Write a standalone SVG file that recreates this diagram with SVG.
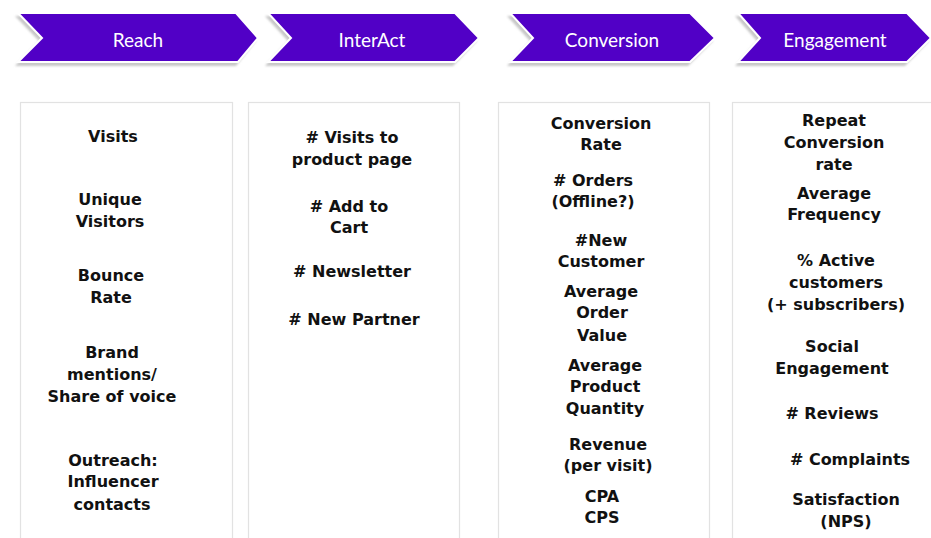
<svg xmlns="http://www.w3.org/2000/svg" width="931" height="538" viewBox="0 0 931 538">
<style>
.chev{fill:#5100c6;stroke:#ffffff;stroke-width:2;}
.shadow{fill:#c8c8c8;}
.ht{font-family:Lato,"Open Sans","Liberation Sans",sans-serif;font-size:19px;fill:#ffffff;text-anchor:middle;}
.box{fill:#ffffff;stroke:#e2e2e2;stroke-width:1.2;}
.t{font-family:"DejaVu Sans","Liberation Sans",sans-serif;font-weight:bold;font-size:16px;fill:#111111;text-anchor:middle;}
</style>
<defs>
<filter id="blur" x="-10%" y="-20%" width="120%" height="150%"><feGaussianBlur stdDeviation="1.2"/></filter>
</defs>
<rect width="931" height="538" fill="#ffffff"/>
<g id="stage-reach">
<polygon class="shadow" filter="url(#blur)" points="15,16 234,16 256,41 236,66 15,66 39,41"/>
<polygon class="chev" points="18,13 236,13 258,38 238,62 18,62 42,38"/>
<text class="ht" x="138" y="47">Reach</text>
</g>
<g id="stage-interact">
<polygon class="shadow" filter="url(#blur)" points="265,16 453,16 477,41 453,66 265,66 288,41"/>
<polygon class="chev" points="268,13 455,13 479,38 455,62 268,62 291,38"/>
<text class="ht" x="372" y="47">InterAct</text>
</g>
<g id="stage-conversion">
<polygon class="shadow" filter="url(#blur)" points="507,16 688,16 713,41 688,66 507,66 530,41"/>
<polygon class="chev" points="510,13 690,13 715,38 690,62 510,62 533,38"/>
<text class="ht" x="612" y="47">Conversion</text>
</g>
<g id="stage-engagement">
<polygon class="shadow" filter="url(#blur)" points="735,16 905,16 929,41 905,66 735,66 757,41"/>
<polygon class="chev" points="738,13 907,13 931,38 907,62 738,62 760,38"/>
<text class="ht" x="835" y="47">Engagement</text>
</g>
<g id="col-reach">
<rect class="box" x="20.5" y="102.5" width="212" height="450"/>
<text class="t" x="113" y="142">Visits</text>
<text class="t" x="110" y="205">Unique</text>
<text class="t" x="110" y="227">Visitors</text>
<text class="t" x="111" y="281">Bounce</text>
<text class="t" x="111" y="303">Rate</text>
<text class="t" x="112" y="358">Brand</text>
<text class="t" x="112" y="380">mentions/</text>
<text class="t" x="112" y="402">Share of voice</text>
<text class="t" x="113" y="466">Outreach:</text>
<text class="t" x="113" y="487">Influencer</text>
<text class="t" x="112" y="510">contacts</text>
</g>
<g id="col-interact">
<rect class="box" x="248.5" y="102.5" width="211" height="450"/>
<text class="t" x="352" y="143"># Visits to</text>
<text class="t" x="352" y="165">product page</text>
<text class="t" x="349" y="212"># Add to</text>
<text class="t" x="349" y="233">Cart</text>
<text class="t" x="352" y="277"># Newsletter</text>
<text class="t" x="354" y="325"># New Partner</text>
</g>
<g id="col-conversion">
<rect class="box" x="498.5" y="102.5" width="211" height="450"/>
<text class="t" x="601" y="129">Conversion</text>
<text class="t" x="601" y="150">Rate</text>
<text class="t" x="593" y="186"># Orders</text>
<text class="t" x="593" y="207">(Offline?)</text>
<text class="t" x="601" y="246">#New</text>
<text class="t" x="601" y="267">Customer</text>
<text class="t" x="601" y="297">Average</text>
<text class="t" x="602" y="318">Order</text>
<text class="t" x="602" y="341">Value</text>
<text class="t" x="605" y="371">Average</text>
<text class="t" x="605" y="392">Product</text>
<text class="t" x="605" y="414">Quantity</text>
<text class="t" x="608" y="450">Revenue</text>
<text class="t" x="608" y="471">(per visit)</text>
<text class="t" x="602" y="502">CPA</text>
<text class="t" x="602" y="523">CPS</text>
</g>
<g id="col-engagement">
<rect class="box" x="732.5" y="102.5" width="220" height="450"/>
<text class="t" x="834" y="126">Repeat</text>
<text class="t" x="834" y="148">Conversion</text>
<text class="t" x="834" y="170">rate</text>
<text class="t" x="834" y="199">Average</text>
<text class="t" x="834" y="220">Frequency</text>
<text class="t" x="836" y="266">% Active</text>
<text class="t" x="836" y="288">customers</text>
<text class="t" x="836" y="310">(+ subscribers)</text>
<text class="t" x="832" y="352">Social</text>
<text class="t" x="832" y="374">Engagement</text>
<text class="t" x="832" y="419"># Reviews</text>
<text class="t" x="850" y="465"># Complaints</text>
<text class="t" x="846" y="505">Satisfaction</text>
<text class="t" x="846" y="527">(NPS)</text>
</g>
</svg>
